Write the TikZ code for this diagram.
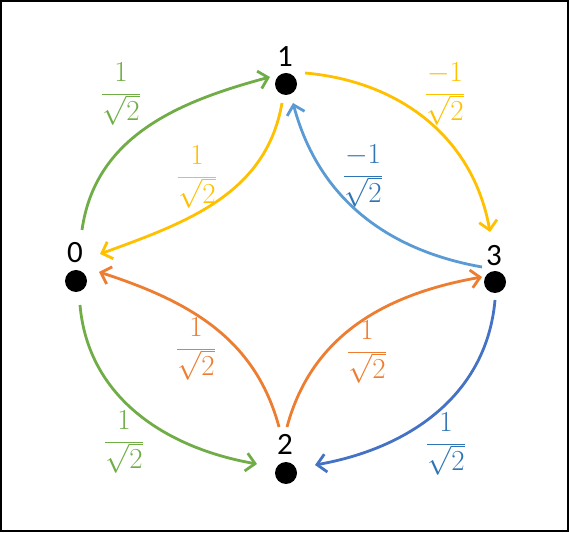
\RequirePackage{fix-cm}
\documentclass[tikz,border=0pt]{standalone}
\usepackage[no-math]{fontspec}
\newfontfamily\calib{Carlito}
\usetikzlibrary{arrows.meta,calc}
\definecolor{cgreen}{HTML}{70AD47}
\definecolor{cyellow}{HTML}{FFC000}
\definecolor{corange}{HTML}{ED7D31}
\definecolor{clblue}{HTML}{5B9BD5}
\definecolor{cdblue}{HTML}{4472C4}
\definecolor{ctblue}{HTML}{2E75B6}
\begin{document}
\begin{tikzpicture}[x=1pt,y=1pt,
  dot/.style={circle,fill=black,minimum size=22pt,inner sep=0pt},
  num/.style={font=\calib\fontsize{31}{31}\selectfont,inner sep=0pt},
  frc/.style={font=\fontsize{29}{34}\selectfont,inner sep=0pt},
  edge/.style={line width=2.8pt,-{Straight Barb[length=9pt,width=18pt,line width=2.8pt]}}]
\useasboundingbox (0,0) rectangle (569,532);
\draw[line width=2pt] (1,1) rectangle (568,531);
\node[dot] (n1) at (286,448) {};
\node[dot] (n0) at (76,251) {};
\node[dot] (n3) at (495,250) {};
\node[dot] (n2) at (286,59) {};
\node[num] (l1) at (285,475) {1};
\node[num] (l0) at (75,279) {0};
\node[num] (l3) at (494,276) {3};
\node[num] (l2) at (285,88) {2};
% edges
\draw[edge,cgreen] ($(n0)+(6,51)$) to[out=82,in=195] ($(n1)+(-16,7)$);
\draw[edge,cyellow] ($(n1)+(-4,-19)$) to[out=-100,in=20] ($(n0)+(24,27)$);
\draw[edge,cyellow] ($(n1)+(19,11)$) to[out=-5,in=100] ($(n3)+(-5,50)$);
\draw[edge,clblue] ($(n3)+(-13,15)$) to[out=170,in=-75] ($(n1)+(7,-19)$);
\draw[edge,corange] ($(n2)+(-7,46)$) to[out=105,in=-18] ($(n0)+(23,9)$);
\draw[edge,corange] ($(n2)+(1,46)$) to[out=75,in=190] ($(n3)+(-13,5)$);
\draw[edge,cgreen] ($(n0)+(4,-24)$) to[out=-85,in=170] ($(n2)+(-29,9)$);
\draw[edge,cdblue] ($(n3)+(0,-18)$) to[out=-95,in=10] ($(n2)+(29,8)$);
% labels
\node[frc,text=cgreen] (f01) at (121,438) {$\displaystyle\frac{1}{\sqrt{2}}$};
\node[frc,text=cyellow] (f10) at (197,355) {$\displaystyle\frac{1}{\sqrt{2}}$};
\node[frc,text=cyellow] (f13) at (445,438) {$\displaystyle\frac{-1}{\sqrt{2}}$};
\node[frc,text=ctblue] (f31) at (363,356) {$\displaystyle\frac{-1}{\sqrt{2}}$};
\node[frc,text=corange] (f20) at (196,183) {$\displaystyle\frac{1}{\sqrt{2}}$};
\node[frc,text=cgreen] (f02) at (124,90) {$\displaystyle\frac{1}{\sqrt{2}}$};
\node[frc,text=corange] (f23) at (367,180) {$\displaystyle\frac{1}{\sqrt{2}}$};
\node[frc,text=ctblue] (f32) at (446,88) {$\displaystyle\frac{1}{\sqrt{2}}$};
\end{tikzpicture}
\end{document}
